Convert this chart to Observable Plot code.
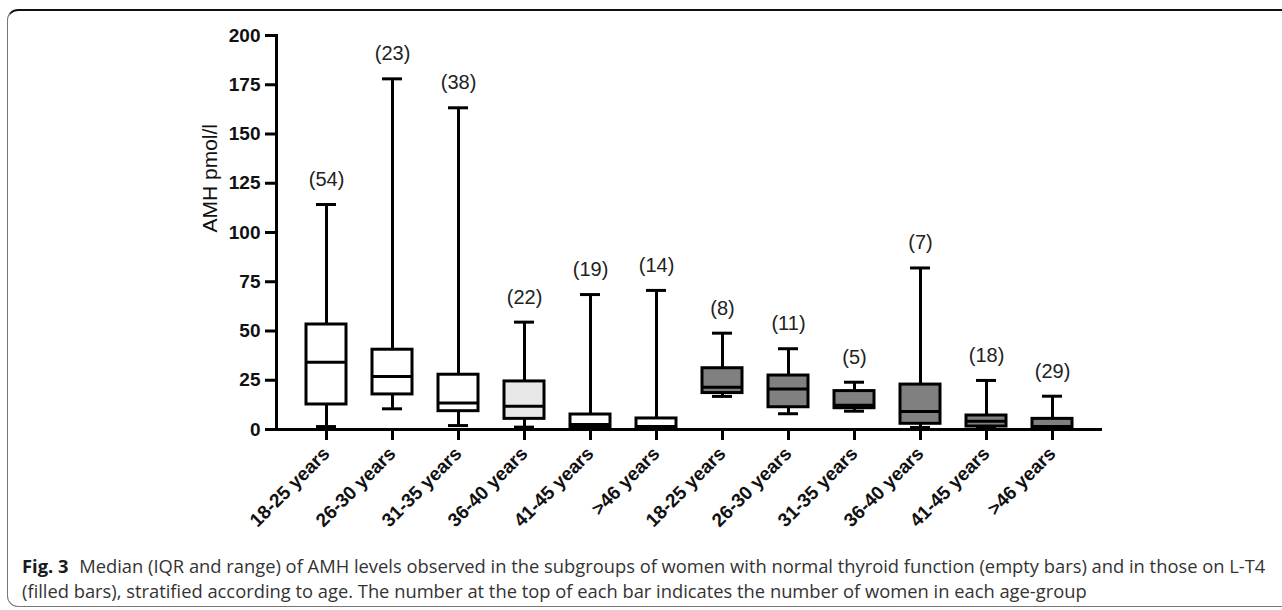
<!DOCTYPE html>
<html>
<head>
<meta charset="utf-8">
<script src="https://cdn.jsdelivr.net/npm/d3@7"></script>
<script src="https://cdn.jsdelivr.net/npm/@observablehq/plot@0.6"></script>
<style>
  html, body { margin: 0; padding: 0; background: #fff; width: 1282px; height: 610px; overflow: hidden; }
  #frame { position: absolute; left: 7px; top: 9px; width: 1400px; height: 598px;
           border-top: 2px solid #111; border-left: 1px solid #777; border-bottom: 1px solid #777;
           border-radius: 11px 0 0 11px; box-sizing: border-box; }
  #chart { position: absolute; left: 0; top: 0; }
  #chart svg text { font-family: "Liberation Sans", Arial, sans-serif; }
  #caption { position: absolute; left: 22px; top: 553px; font-family: "Open Sans", sans-serif;
             font-size: 16px; line-height: 25px; color: #333; white-space: nowrap; }
  #caption b { color: #1a1a1a; margin-right: 6px; }
</style>
</head>
<body>
<div id="frame"></div>
<div id="chart"></div>
<div id="caption"><span id="l1"><b>Fig. 3</b> Median (IQR and range) of AMH levels observed in the subgroups of women with normal thyroid function (empty bars) and in those on L-T4</span><br><span id="l2">(filled bars), stratified according to age. The number at the top of each bar indicates the number of women in each age-group</span></div>
<script>
const categories = ["18-25 years","26-30 years","31-35 years","36-40 years","41-45 years",">46 years",
                    "18-25 years","26-30 years","31-35 years","36-40 years","41-45 years",">46 years"];
const groups  = ["normal","normal","normal","normal","normal","normal","L-T4","L-T4","L-T4","L-T4","L-T4","L-T4"];
const counts  = [54, 23, 38, 22, 19, 14, 8, 11, 5, 7, 18, 29];
const mins    = [1.5, 10.5, 2.0, 1.2, 0, 0, 16.8, 8, 9.3, 1, 0.5, 0];
const q1s     = [12.7, 17.8, 9.3, 5.4, 1, 0.5, 18.5, 11.3, 10.8, 2.9, 1.5, 0.5];
const medians = [34.2, 26.9, 13.4, 11.8, 2.5, 1.5, 21.5, 20.6, 12.3, 9.1, 4.2, 1.5];
const q3s     = [53.3, 40.5, 27.8, 24.4, 7.6, 5.6, 31.1, 27.4, 19.5, 22.8, 7.1, 5.4];
const maxs    = [114.2, 178, 163.3, 54.5, 68.5, 70.6, 48.9, 41, 24, 82, 24.9, 16.9];
const yTicks  = [0, 25, 50, 75, 100, 125, 150, 175, 200];

const data = categories.map((c, i) => ({
  key: String(i), cat: c, group: groups[i], n: counts[i],
  min: mins[i], q1: q1s[i], median: medians[i], q3: q3s[i], max: maxs[i]
}));
const fillOf = d => d.group === "L-T4" ? "#808080" : (d.cat === "36-40 years" ? "#e8e8e8" : "#ffffff");

const chart = Plot.plot({
  width: 1282, height: 545,
  marginLeft: 276, marginRight: 180, marginTop: 35, marginBottom: 116,
  x: { type: "band", domain: data.map(d => d.key), paddingInner: 0.4, paddingOuter: 0.39, axis: null },
  y: { domain: [0, 200], axis: null },
  marks: [
    Plot.ruleX(data, { x: "key", y1: "min", y2: "max", stroke: "#000", strokeWidth: 3 }),
    Plot.barY(data, { x: "key", y1: "q1", y2: "q3", fill: fillOf, stroke: "#000", strokeWidth: 3 }),
    Plot.tickY(data, { x: "key", y: "median", stroke: "#000", strokeWidth: 3 }),
    Plot.tickY(data, { x: "key", y: "min", stroke: "#000", strokeWidth: 3, inset: 10 }),
    Plot.tickY(data, { x: "key", y: "max", stroke: "#000", strokeWidth: 3, inset: 10 }),
    Plot.text(data, { x: "key", y: "max", text: d => `(${d.n})`, dy: -25, fontSize: 20, fill: "#222", lineAnchor: "middle" }),
    Plot.axisY({ ticks: yTicks, tickSize: 11, tickPadding: 5, strokeWidth: 3, fontSize: 19, fontWeight: "bold", fill: "#111", label: null }),
    Plot.axisX({ tickSize: 11, tickPadding: 10, strokeWidth: 3, tickRotate: -45, fontSize: 19, fontWeight: "bold", fill: "#111",
                 tickFormat: k => categories[+k], label: null }),
    Plot.frame({ anchor: "left", stroke: "#000", strokeWidth: 3 }),
    Plot.ruleY([0], { stroke: "#000", strokeWidth: 3 }),
    Plot.text(["AMH pmol/l"], { text: d => d, frameAnchor: "left", dx: -66, rotate: -90, fontSize: 21, fill: "#111", lineAnchor: "middle" })
  ]
});
document.getElementById("chart").appendChild(chart);

// fit caption line 1 to the reference width
const l1 = document.getElementById("l1");
const cap = document.getElementById("caption");
const w = l1.getBoundingClientRect().width;
const fs = 16 * 1245 / w;
cap.style.fontSize = fs.toFixed(2) + "px";
</script>
</body>
</html>
